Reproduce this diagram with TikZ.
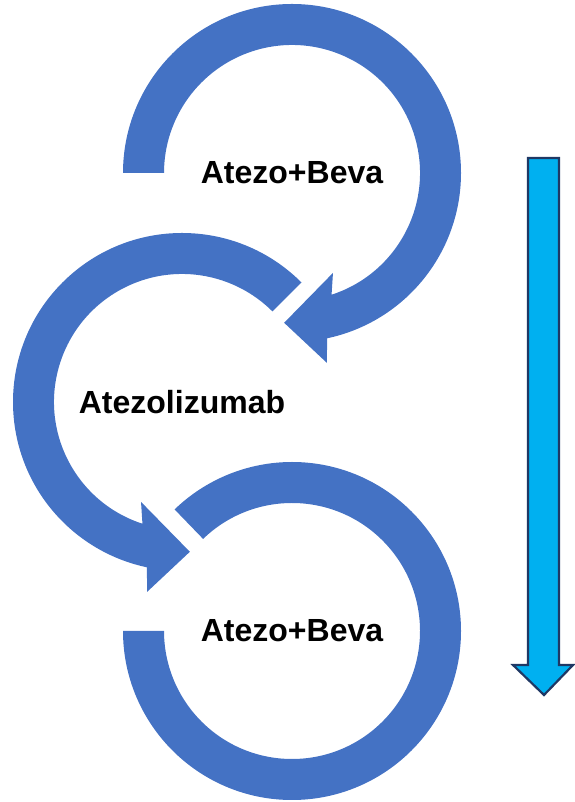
\documentclass[tikz,border=0pt]{standalone}
\usepackage{fontspec}
\setmainfont{Liberation Sans}
\definecolor{ringblue}{HTML}{4472C4}
\definecolor{flowcyan}{HTML}{00B0F0}
\definecolor{flowedge}{HTML}{1F3864}
\begin{document}
\begin{tikzpicture}[
        x=1pt, y=1pt,
        font=\fontsize{32}{38}\selectfont\bfseries,
        ring/.style={fill=ringblue, draw=none},
        flow/.style={fill=flowcyan, draw=flowedge, line width=2.2pt, line join=miter},
        cyclabel/.style={inner sep=0pt, text=black}
    ]
        \useasboundingbox (0,0) rectangle (574,802);
        \coordinate (c1) at (292,629);
        \coordinate (c2) at (182,400);
        \coordinate (c3) at (292,171);

        % first cycle, clockwise
        \fill[ring, shift={(c1)}] (180:169) arc[start angle=180, end angle=-78, radius=169]
            -- (-79.6:193) -- (-93:150) -- (-67.7:108) -- (-72:128)
            arc[start angle=-72, end angle=180, radius=128] -- cycle;
        % second cycle, counter-clockwise
        \fill[ring, shift={(c2)}] (45:169) arc[start angle=45, end angle=258, radius=169]
            -- (259.6:193) -- (273:150) -- (247.7:108) -- (252:128)
            arc[start angle=252, end angle=45, radius=128] -- cycle;
        % third cycle, open ring
        \fill[ring, shift={(c3)}] (180:169) arc[start angle=180, end angle=494, radius=169]
            -- (494:128) arc[start angle=494, end angle=180, radius=128] -- cycle;

        \node[cyclabel] (first) at (c1) {Atezo+Beva};
        \node[cyclabel] (second) at (c2) {Atezolizumab};
        \node[cyclabel] (third) at (c3) {Atezo+Beva};

        % time direction
        \draw[flow] (528,644) -- (559,644) -- (559,137) -- (573,137) -- (544,107)
            -- (513,137) -- (528,137) -- cycle;
    \end{tikzpicture}
\end{document}
